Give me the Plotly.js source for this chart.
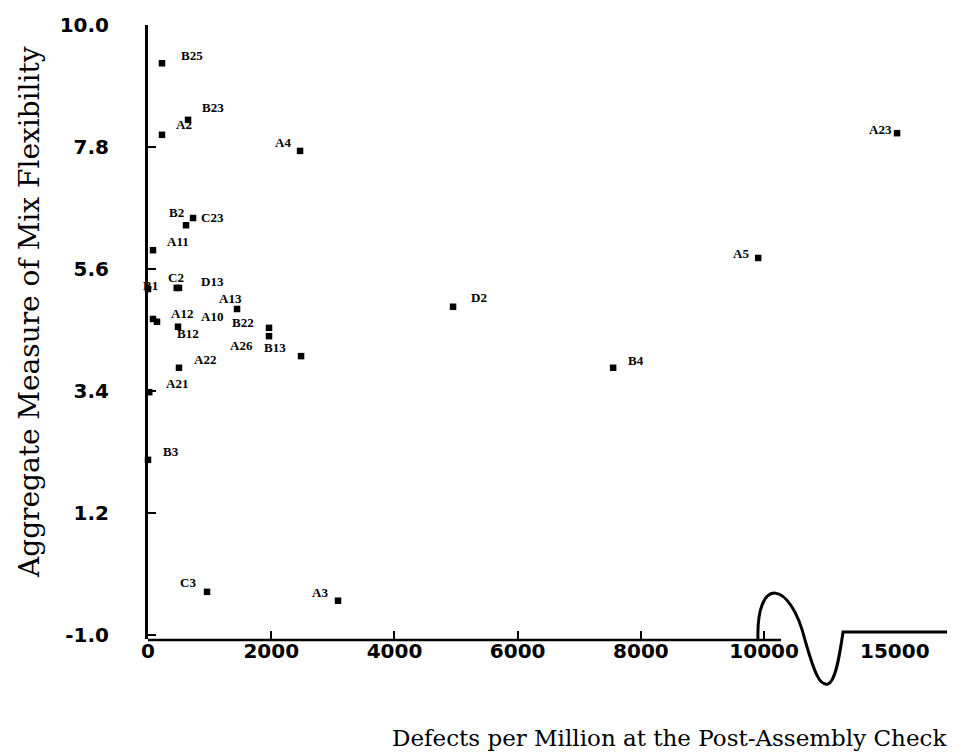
<!DOCTYPE html>
<html>
<head>
<meta charset="utf-8">
<script src="https://cdn.plot.ly/plotly-3.0.1.min.js"></script>
<style>html,body{margin:0;padding:0;background:#fff;}#chart{width:964px;height:756px;}</style>
</head>
<body>
<div id="chart"></div>
<script>
// ---- data ----
const plantLabels = ["B25","A2","B23","A4","B2","C23","A11","B1","C2","D13","A13","A10","A12","B12","B22","A26","B13","A22","A21","B3","C3","A3","D2","B4","A5","A23"];
const defectsPerMillion = [227,227,650,2468,617,731,81,0,466,503,1445,146,81,487,1964,1964,2484,503,20,0,958,3084,4951,7549,9903,15030];
const mixFlexibility = [9.31,8.02,8.29,7.73,6.39,6.52,5.94,5.24,5.26,5.26,4.88,4.65,4.70,4.56,4.54,4.39,4.03,3.82,3.38,2.16,-0.22,-0.38,4.92,3.82,5.80,8.05];
const xTickValues = [0,2000,4000,6000,8000,10000];
const xTickText = ["0","2000","4000","6000","8000","10000"];
const xBreakTick = "15000";
const yTickValues = [-1.0,1.2,3.4,5.6,7.8,10.0];
const yTickText = ["-1.0","1.2","3.4","5.6","7.8","10.0"];

// ---- styling: label offsets (px, screen dx, dy) ----
const labelOffsets = {
  B25:[30,-8], A2:[22,-10], B23:[25,-12], A4:[-17,-8], B2:[-10,-13], C23:[19,-1],
  A11:[25,-9], B1:[2,-4], C2:[-1,-10], D13:[34,-6], A13:[-7,-10], A10:[55,-5],
  A12:[29,-5], B12:[10,7], B22:[-26,-5], A26:[-28,9], B13:[-26,-9], A22:[26,-8],
  A21:[28,-9], B3:[23,-8], C3:[-19,-9], A3:[-18,-8], D2:[26,-9], B4:[23,-7],
  A5:[-17,-4], A23:[-17,-4]
};

// broken axis: values beyond the break are drawn shifted so that 15000 sits at BREAK_POS
const BREAK_POS = 12127;
function toPlotX(v){ return v > 10000 ? BREAK_POS + (v - 15000) : v; }

const plotX = defectsPerMillion.map(toPlotX);

// pixel helpers for decorative axis break drawing
const L = 148, R = 949, T = 25, B = 639;
function px(xp){ return ((xp - L) / (R - L)).toFixed(4); }
function py(yp){ return ((B - yp) / (B - T)).toFixed(4); }

const breakPath = "M " + px(758) + " " + py(640) +
  " C " + px(756) + " " + py(575) + ", " + px(790) + " " + py(580) + ", " + px(805) + " " + py(640) +
  " C " + px(815) + " " + py(675) + ", " + px(820) + " " + py(686) + ", " + px(828) + " " + py(684) +
  " C " + px(835) + " " + py(682) + ", " + px(839) + " " + py(660) + ", " + px(843) + " " + py(632) +
  " L " + px(947) + " " + py(632);

const labelFont = {family:"Liberation Serif", size:13, color:"#000", weight:"bold"};
const tickFont = {family:"DejaVu Sans", size:20, color:"#000", weight:"bold"};
const annotations = plantLabels.map((lab,i)=>({
  x: plotX[i], y: mixFlexibility[i], xref:"x", yref:"y",
  text: lab, showarrow:false, font: labelFont,
  xshift: labelOffsets[lab][0], yshift: -labelOffsets[lab][1]
}));
annotations.push({
  x: BREAK_POS, y: py(637), xref:"x", yref:"paper", yanchor:"top",
  text: xBreakTick, showarrow:false, font: tickFont
});
annotations.push({
  x: 1.0, y: py(738), xref:"paper", yref:"paper", xanchor:"right", yanchor:"middle",
  text:"Defects per Million at the Post-Assembly Check", showarrow:false,
  font:{family:"DejaVu Serif", size:23, color:"#000"}
});
annotations.push({
  x: px(30), y: py(312), xref:"paper", yref:"paper", xanchor:"center", yanchor:"middle",
  text:"Aggregate Measure of Mix Flexibility", showarrow:false, textangle:-90,
  font:{family:"DejaVu Serif", size:28, color:"#000"}
});

const trace = {
  type:"scatter", mode:"markers",
  x: plotX, y: mixFlexibility,
  marker:{symbol:"square", size:6.5, color:"#000"},
  cliponaxis:false, hoverinfo:"skip"
};

const layout = {
  width:964, height:756,
  margin:{l:148, r:15, t:25, b:117, pad:0},
  paper_bgcolor:"#fff", plot_bgcolor:"#fff",
  showlegend:false,
  xaxis:{
    range:[0,13000], showgrid:false, zeroline:false, showline:false,
    tickmode:"array", tickvals:xTickValues, ticktext:xTickText,
    ticks:"inside", ticklen:8, tickwidth:2, tickcolor:"#000",
    ticklabelstandoff:-2,
    tickfont: tickFont,
    fixedrange:true
  },
  yaxis:{
    range:[-1.07,10], showgrid:false, zeroline:false,
    showline:true, linewidth:3, linecolor:"#000",
    tickmode:"array", tickvals:yTickValues, ticktext:yTickText,
    ticks:"inside", ticklen:8, tickwidth:2, tickcolor:"#000",
    ticklabelstandoff:32,
    tickfont: tickFont,
    fixedrange:true
  },
  shapes:[
    {type:"line", xref:"paper", yref:"paper", x0:0, x1:px(781), y0:py(640), y1:py(640), line:{color:"#000", width:2.5}},
    {type:"path", xref:"paper", yref:"paper", path:breakPath, line:{color:"#000", width:3}}
  ],
  annotations: annotations
};

Plotly.newPlot("chart",[trace],layout,{staticPlot:true, displayModeBar:false});
</script>
</body>
</html>
